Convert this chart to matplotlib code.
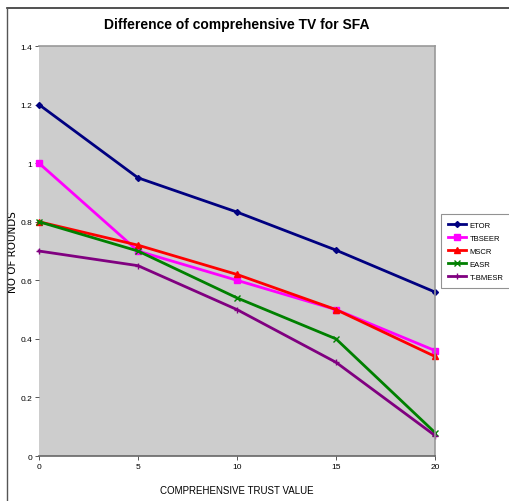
import numpy as np
import matplotlib.pyplot as plt
from matplotlib.lines import Line2D

# trust value on x axis
x = [0, 5, 10, 15, 20]
etor = [1.2, 0.95, 0.833, 0.703, 0.56]
tbseer = [1.0, 0.70, 0.60, 0.50, 0.36]
mscr = [0.80, 0.72, 0.62, 0.50, 0.34]
easr = [0.80, 0.70, 0.54, 0.40, 0.08]
tbmesr = [0.70, 0.65, 0.50, 0.32, 0.07]

names = ['ETOR', 'TBSEER', 'MSCR', 'EASR', 'T-BMESR']
colors = ['#000080', '#ff00ff', '#ff0000', '#008000', '#800080']
markers = ['D', 's', '^', 'x', '+']
sizes = [3, 5, 5, 5, 5]

narrow = ['Liberation Sans', 'DejaVu Sans']

fig = plt.figure(figsize=(5.09, 5.02), dpi=100)
ax = fig.add_axes([0.0766, 0.0896, 0.778, 0.8167])
ax.set_facecolor('#cdcdcd')

series = [etor, tbseer, mscr, easr, tbmesr]
for s, n, c, m, ms in zip(series, names, colors, markers, sizes):
    ax.plot(x, s, color=c, marker=m, markersize=ms, lw=2, label=n, clip_on=False)

ax.set_xlim(0, 20)
ax.set_ylim(0, 1.4)
ax.set_xticks([0, 5, 10, 15, 20])
ax.set_yticks([0, 0.2, 0.4, 0.6, 0.8, 1.0, 1.2, 1.4])
ax.set_yticklabels(['0', '0.2', '0.4', '0.6', '0.8', '1', '1.2', '1.4'])
for lab in ax.get_xticklabels() + ax.get_yticklabels():
    lab.set_family(narrow)
    lab.set_fontsize(6)
ax.tick_params(length=3, width=0.7, color='#555555', pad=2)

for sp in ['top', 'right']:
    ax.spines[sp].set_color('#999999')
    ax.spines[sp].set_linewidth(1.2)
ax.spines['left'].set_visible(False)
ax.spines['bottom'].set_color('#666666')
ax.spines['bottom'].set_linewidth(1.2)

ax.set_title('Difference of comprehensive TV for SFA', fontsize=10,
             fontweight='bold', family=narrow, pad=13)
ax.set_xlabel('COMPREHENSIVE TRUST VALUE', fontsize=7, family=narrow, labelpad=11)
ax.set_ylabel('NO OF ROUNDS', fontsize=7.5)
ax.yaxis.set_label_coords(-0.052, 0.5)

leg = ax.legend(loc='center left', bbox_to_anchor=(1.01, 0.5), frameon=True,
                fancybox=False, edgecolor='#777777',
                prop={'family': narrow, 'size': 5.5}, handlelength=2.4,
                handletextpad=0.4, labelspacing=0.75, borderpad=0.9,
                borderaxespad=0.3)
leg.get_frame().set_linewidth(0.8)

# outer frame of the picture
fig.add_artist(Line2D([0.014, 1.0], [0.982, 0.982], color='#333333', lw=1.2))
fig.add_artist(Line2D([0.014, 0.014], [0.0, 0.982], color='#555555', lw=1.0))

fig.savefig('out.png', dpi=100)
